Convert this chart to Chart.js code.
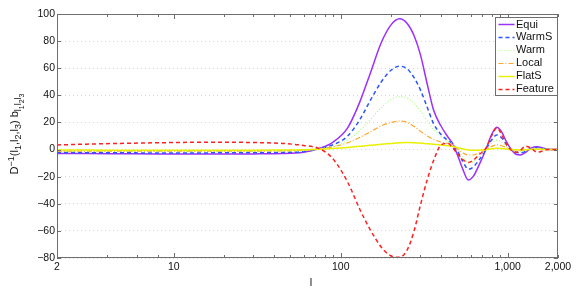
<!DOCTYPE html>
<html>
<head>
<meta charset="utf-8">
<script src="https://cdn.jsdelivr.net/npm/chart.js@4.4.1/dist/chart.umd.min.js"></script>
<style>
  html, body { margin: 0; padding: 0; background: #fff; }
  #wrap { width: 581px; height: 289px; }
</style>
</head>
<body>
<div id="wrap"><canvas id="chart"></canvas></div>
<script>
// multipole l (x axis, log)
const ell = [2, 3, 5, 8, 12, 20, 30, 45, 60, 75, 90, 110, 130, 150, 175, 200, 225, 250, 275, 300,
  330, 360, 400, 440, 470, 500, 540, 580, 620, 670, 740, 800, 860, 920, 980, 1050, 1120, 1190,
  1280, 1380, 1500, 1620, 1750, 2000];

const equi = [-3.0, -3.0, -3.1, -3.2, -3.3, -3.3, -3.2, -3.0, -2.0, 1.0, 5.5, 16, 35, 56, 79, 92, 96.5, 93, 84, 70,
  48, 29, 17, 9, 4, -4, -15, -22.5, -20, -12, 0, 11, 16.5, 13, 6, 0, -3.5, -4, -2, 1, 2, 1.2, 0.2, 0];
const warmS = [-2.2, -2.3, -2.4, -2.5, -2.5, -2.4, -2.3, -2.1, -1.5, 0.8, 3.5, 10, 22, 36, 50, 58.5, 61.5, 59.5, 53, 44,
  31, 19, 11, 6.5, 4, -1, -9, -14.5, -13, -8, 0, 7, 10.8, 8.5, 4, 0, -2, -2.4, -1.2, 0.8, 1.6, 0.8, 0.1, 0];
const warm = [-1.3, -1.3, -1.3, -1.4, -1.4, -1.4, -1.3, -1.2, -0.8, 0.8, 2.5, 7, 14, 22, 31, 37, 39, 38, 34, 28.5,
  21, 15, 9.5, 6, 4, 0.5, -5.5, -9.5, -9, -5.5, 0, 4.5, 7, 5.5, 2.5, 0, -1.2, -1.5, -0.8, 0.4, 1, 0.5, 0, 0];
const local = [-1.2, -1.2, -1.2, -1.2, -1.2, -1.2, -1.1, -1.0, -0.5, 0.5, 2, 5, 9, 13, 17.5, 20, 21, 20, 17, 13.5,
  10, 7.5, 5.5, 4.5, 3.5, 0.5, -2.5, -4, -4, -2.5, 0, 2.3, 3.4, 2.8, 1.5, 0, -0.5, -0.7, -0.4, 0.2, 0.5, 0.3, 0, 0];
const flatS = [-0.4, -0.4, -0.5, -0.5, -0.5, -0.5, -0.5, -0.4, -0.2, 0.2, 0.8, 1.6, 2.4, 3.1, 3.9, 4.5, 5, 5.2, 5.1, 4.8,
  4.3, 3.9, 3.4, 2.8, 2.2, 1.3, 0.4, -0.3, -0.5, -0.5, 0, 0.6, 0.9, 0.8, 0.4, 0, -0.2, -0.2, -0.1, 0.1, 0.2, 0.1, 0, 0];
const feature = [3.4, 4.0, 4.6, 5.0, 5.3, 5.4, 5.2, 4.5, 3.0, 0.5, -7, -24, -44, -59, -72, -78.5, -79.5, -74, -60, -41,
  -22, -8, 3.5, 4.5, 1, -3, -7.5, -9.5, -8, -4, 1, 10, 16, 11, 4, -0.5, -2, -0.5, 2.5, 1, -2, -1, 0, 0];

const seriesNames = ['Equi', 'WarmS', 'Warm', 'Local', 'FlatS', 'Feature'];
const xTickVals = [2, 4, 6, 8, 10, 20, 30, 40, 50, 60, 70, 80, 90, 100, 200, 300, 400, 500, 600, 700, 800, 900, 1000, 2000];
const xLabelVals = [2, 10, 100, 1000, 2000];
const yTickVals = [-80, -60, -40, -20, 0, 20, 40, 60, 80, 100];

const axisColor = '#6e6e6e';
const fontFamily = "'Liberation Sans', Arial, Helvetica, sans-serif";

const styles = [
  { color: '#9b30ff', dash: [], width: 1.5 },
  { color: '#2a55ff', dash: [4, 3], width: 1.5 },
  { color: '#a8ff80', dash: [1, 2], width: 1.2 },
  { color: '#ffa62b', dash: [5, 2, 1, 2], width: 1.2 },
  { color: '#e8f000', dash: [], width: 1.5 },
  { color: '#ff2020', dash: [4, 3], width: 1.5 },
];

const allValues = [equi, warmS, warm, local, flatS, feature];

const datasets = allValues.map((vals, i) => ({
  label: seriesNames[i],
  data: ell.map((l, j) => ({ x: l, y: vals[j] })),
  borderColor: styles[i].color,
  borderDash: styles[i].dash,
  borderWidth: styles[i].width,
  pointRadius: 0,
  fill: false,
  cubicInterpolationMode: 'monotone',
  order: 6 - i
}));

// frame, inward ticks, legend and axis titles
const decorations = {
  id: 'decorations',
  afterDraw(chart) {
    const { ctx, chartArea: a, scales: { x, y } } = chart;
    ctx.save();
    ctx.strokeStyle = axisColor;
    ctx.lineWidth = 1;
    ctx.setLineDash([]);
    ctx.strokeRect(Math.round(a.left) + 0.5, Math.round(a.top) + 0.5,
      Math.round(a.right - a.left) - 1, Math.round(a.bottom - a.top) - 1);

    ctx.beginPath();
    xTickVals.forEach(v => {
      const px = Math.round(x.getPixelForValue(v)) + 0.5;
      const len = [10, 100, 1000].includes(v) ? 5 : 3;
      ctx.moveTo(px, a.bottom); ctx.lineTo(px, a.bottom - len);
      ctx.moveTo(px, a.top); ctx.lineTo(px, a.top + len);
    });
    yTickVals.forEach(v => {
      const py = Math.round(y.getPixelForValue(v)) + 0.5;
      ctx.moveTo(a.left, py); ctx.lineTo(a.left + 4, py);
      ctx.moveTo(a.right, py); ctx.lineTo(a.right - 4, py);
    });
    ctx.stroke();

    // legend box
    const lw = 62, lh = 78;
    const lx = Math.round(a.right) - lw - 0.5, ly = Math.round(a.top) + 3.5;
    ctx.fillStyle = '#fff';
    ctx.fillRect(lx, ly, lw, lh);
    ctx.strokeStyle = axisColor;
    ctx.strokeRect(lx, ly, lw, lh);
    ctx.font = '11px ' + fontFamily;
    ctx.textBaseline = 'middle';
    ctx.textAlign = 'left';
    seriesNames.forEach((name, i) => {
      const cy = ly + 6.5 + i * 12.9;
      ctx.strokeStyle = styles[i].color;
      ctx.lineWidth = styles[i].width;
      ctx.setLineDash(styles[i].dash);
      ctx.beginPath();
      ctx.moveTo(lx + 3, Math.round(cy) + 0.5);
      ctx.lineTo(lx + 19, Math.round(cy) + 0.5);
      ctx.stroke();
      ctx.fillStyle = '#111';
      ctx.fillText(name, lx + 20.5, cy + 0.5);
    });
    ctx.setLineDash([]);

    // x title
    ctx.fillStyle = '#111';
    ctx.font = '11px ' + fontFamily;
    ctx.textAlign = 'center';
    ctx.fillText('l', 311, 283);

    // y title with super/subscripts
    const segs = [['D', 0], ['\u22121', 1], ['(l', 0], ['1', -1], [',l', 0], ['2', -1], [',l', 0], ['3', -1],
      [') b', 0], ['l', -1], ['1', -2], ['l', -1], ['2', -2], ['l', -1], ['3', -2]];
    const size = { '0': 11, '1': 9, '-1': 9, '-2': 7 };
    const shift = { '0': 0, '1': -4.5, '-1': 3, '-2': 6 };
    let total = 0;
    segs.forEach(([t, lv]) => { ctx.font = size[lv] + 'px ' + fontFamily; total += ctx.measureText(t).width; });
    ctx.translate(14, 134);
    ctx.rotate(-Math.PI / 2);
    ctx.textAlign = 'left';
    ctx.textBaseline = 'alphabetic';
    let cx = -total / 2;
    segs.forEach(([t, lv]) => {
      ctx.font = size[lv] + 'px ' + fontFamily;
      ctx.fillText(t, cx, 4 + shift[lv]);
      cx += ctx.measureText(t).width;
    });
    ctx.restore();
  }
};

new Chart(document.getElementById('chart'), {
  type: 'line',
  data: { datasets },
  options: {
    responsive: true,
    maintainAspectRatio: false,
    animation: false,
    layout: { padding: { left: 0, right: 23, top: 14, bottom: 0 } },
    plugins: { legend: { display: false }, tooltip: { enabled: false } },
    scales: {
      x: {
        type: 'logarithmic',
        min: 2,
        max: 2000,
        afterBuildTicks: (scale) => { scale.ticks = xTickVals.map(v => ({ value: v })); },
        afterFit: (scale) => { scale.height = 31; },
        grid: { display: false, drawTicks: false },
        border: { display: false },
        ticks: {
          autoSkip: false,
          maxRotation: 0,
          padding: 3,
          color: '#111',
          font: { family: fontFamily, size: 10.5 },
          callback: (v) => xLabelVals.includes(v) ? v.toLocaleString('en-US') : ''
        }
      },
      y: {
        min: -80,
        max: 100,
        afterBuildTicks: (scale) => { scale.ticks = yTickVals.map(v => ({ value: v })); },
        afterFit: (scale) => { scale.width = 57; },
        grid: { color: '#d6d6d6', lineWidth: 1, drawTicks: false },
        border: { display: false, dash: [1, 3] },
        ticks: {
          padding: 2,
          color: '#111',
          font: { family: fontFamily, size: 10.5 },
          callback: (v) => v < 0 ? '\u2212' + Math.abs(v) : String(v)
        }
      }
    }
  },
  plugins: [decorations]
});
</script>
</body>
</html>
